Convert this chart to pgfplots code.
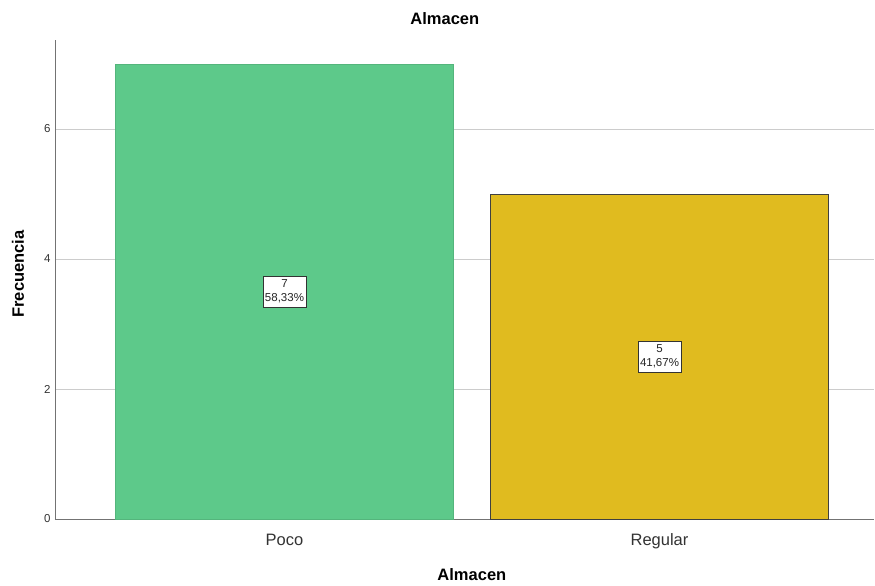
\documentclass[border=0pt]{standalone}
\usepackage{pgfplots}
\pgfplotsset{compat=1.18}
\usepackage{pgfplotstable}
\usepackage{fontspec}
\setmainfont{Liberation Sans}
\usetikzlibrary{calc}
\definecolor{cgreen}{HTML}{5DC98A}
\definecolor{cyellow}{HTML}{E0BB1F}
\definecolor{gridc}{HTML}{CCCCCC}
\pgfplotstableread[col sep=comma]{
x,y
0,7
}\poco
\pgfplotstableread[col sep=comma]{
x,y
1,5
}\regular
\pgfplotstableread[col sep=comma]{
x,y,lab
0,3.5,{7\\58,33\%}
1,2.5,{5\\41,67\%}
}\labs
\begin{document}
\begin{tikzpicture}
\begin{axis}[
  name=ax,
  scale only axis,
  width=819bp, height=479bp,
  xmin=-0.612, xmax=1.572,
  ymin=0, ymax=7.37,
  axis x line=bottom, axis y line=left,
  axis line style={-, draw=black!55, line width=0.8bp},
  xtick={0,1}, xticklabels={Poco,Regular},
  ytick={0,2,4,6},
  major tick length=0pt,
  ymajorgrids,
  grid style={gridc, line width=0.8bp},
  tick label style={/pgf/number format/assume math mode=true},
  yticklabel style={font=\fontsize{11.5bp}{12bp}\selectfont, text=black!80, xshift=-1bp},
  xticklabel style={font=\fontsize{16.5bp}{18bp}\selectfont, text=black!80, anchor=base, yshift=-26bp},
  ylabel={\textbf{Frecuencia}},
  ylabel style={font=\fontsize{16.5bp}{18bp}\selectfont, at={(rel axis cs:0,0.5)}, anchor=center, yshift=37bp, xshift=5.5bp},
  xlabel={\textbf{Almacen}},
  xlabel style={font=\fontsize{16.5bp}{18bp}\selectfont, at={(rel axis cs:0.509,0)}, anchor=center, yshift=-56bp},
  title={\textbf{Almacen}},
  title style={font=\fontsize{16.5bp}{18bp}\selectfont, at={(rel axis cs:0.476,1)}, anchor=center, yshift=15bp},
  ybar, bar width=0.9, bar shift=0pt,
  clip=false,
]
\addplot[fill=cgreen, draw=cgreen!90!black, line width=0.5bp] table[x=x,y=y] {\poco};
\addplot[fill=cyellow, draw=black!75, line width=0.8bp] table[x=x,y=y] {\regular};
\addplot[only marks, mark=none, draw=none, fill=none,
  point meta=explicit symbolic,
  nodes near coords,
  nodes near coords align={center},
  every node near coord/.style={anchor=center, draw=black!80, fill=white, line width=0.9bp,
    align=center, inner xsep=2bp, inner ysep=4bp, font=\fontsize{11.5bp}{13.5bp}\selectfont, text=black!85},
] table[x=x,y=y,meta=lab] {\labs};
\end{axis}
\useasboundingbox ($(ax.south west)+(-55bp,-67bp)$) rectangle ($(ax.north east)+(1bp,40bp)$);
\end{tikzpicture}
\end{document}
